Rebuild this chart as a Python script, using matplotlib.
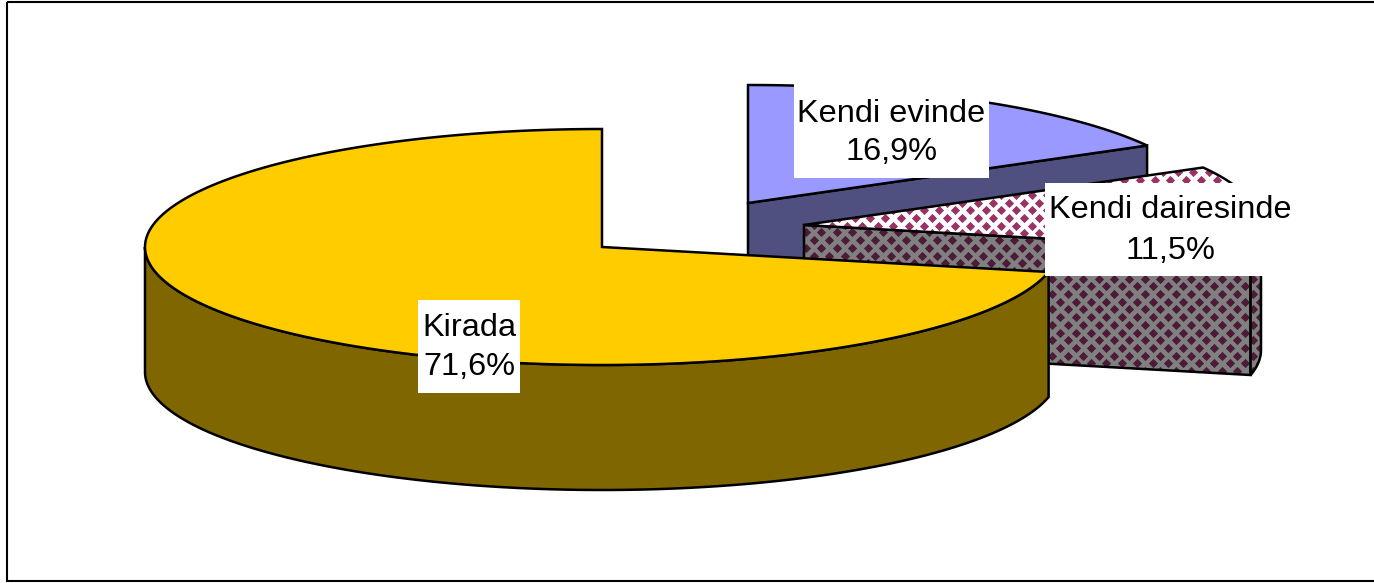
import numpy as np
import matplotlib
matplotlib.use("Agg")
import matplotlib.pyplot as plt
from matplotlib.patches import Polygon, Rectangle

labels = ["Kirada", "Kendi evinde", "Kendi dairesinde"]
values = [71.6, 16.9, 11.5]
value_text = ["71,6%", "16,9%", "11,5%"]

W, H = 1374, 583
plt.rcParams['font.family'] = ['Liberation Sans', 'DejaVu Sans']
fig = plt.figure(figsize=(W/100, H/100), dpi=100)
ax = fig.add_axes([0, 0, 1, 1])
ax.set_xlim(0, W); ax.set_ylim(H, 0); ax.axis('off')

RX, RY, DEPTH = 457, 118, 125
LW = 1.8
PX, PY = 15.4, 7.7

# start angle and direction derived from values
a_kirada = (90, 90 + values[0]*3.6)
a_evinde = (90, 90 - values[1]*3.6)
a_daire = (a_evinde[1], a_evinde[1] - values[2]*3.6)

def arc(cx, cy, a0, a1, n=200):
    t = np.radians(np.linspace(a0, a1, n))
    return np.column_stack([cx + RX*np.cos(t), cy - RY*np.sin(t)])

def top_poly(cx, cy, a0, a1):
    return np.vstack([[cx, cy], arc(cx, cy, a0, a1)])

def rim_poly(cx, cy, a0, a1):
    p = arc(cx, cy, a0, a1)
    return np.vstack([p, p[::-1] + [0, DEPTH]])

def cut_face(cx, cy, angle):
    end = arc(cx, cy, angle, angle, 1)[0]
    return np.array([[cx, cy], end, end + [0, DEPTH], [cx, cy + DEPTH]])

def fill(pts, fc, z, ec='black'):
    p = Polygon(pts, closed=True, fc=fc, ec=ec, lw=LW, zorder=z, joinstyle='miter')
    ax.add_patch(p)
    return p

def diamonds(pts, base, dia, z, phase):
    patch = fill(pts, base, z, ec='none')
    gx, gy = [], []
    for j in range(-80, 80):
        y = phase[1] + j*PY
        for k in range(-80, 80):
            gx.append(phase[0] + k*PX + (PX/2 if j % 2 else 0))
            gy.append(y)
    s = ax.scatter(gx, gy, marker='D', s=22, c=dia, lw=0, zorder=z + .01)
    s.set_clip_path(patch)
    fill(pts, 'none', z + .02)

# Kendi evinde
c1 = (748, 203)
fill(cut_face(*c1, a_evinde[1]), '#4F4F80', 2)
fill(top_poly(*c1, *a_evinde), '#9999FF', 3)

# Kendi dairesinde
c2 = (804, 225)
diamonds(cut_face(*c2, a_daire[1]), '#808080', '#4D1A38', 4, (1114, 294))
diamonds(rim_poly(*c2, 0, a_daire[1]), '#808080', '#4D1A38', 4.3, (1114, 294))
diamonds(top_poly(*c2, *a_daire), 'white', '#993366', 5, (870, 218))

# Kirada
c0 = (602, 247)
fill(rim_poly(*c0, 180, a_kirada[1]), '#806600', 6)
fill(top_poly(*c0, *a_kirada), '#FFCC00', 7)

# Frame (right side runs off the image)
ax.add_patch(Rectangle((7, 2), 1400, 579, fc='none', ec='black', lw=1.5, zorder=20))

# Labels: box and two text line centres
boxes = [(418, 300, 520, 393), (794, 84, 989, 178), (1045, 183, 1295, 276)]
line_y = [(328, 367), (114, 152), (210, 251)]
for lab, val, b, ly in zip(labels, value_text, boxes, line_y):
    ax.add_patch(Rectangle((b[0], b[1]), b[2]-b[0], b[3]-b[1], fc='white', ec='none', zorder=10))
    cx = (b[0]+b[2])/2
    ax.text(cx, ly[0], lab, ha='center', va='center', fontsize=23.4, zorder=11, color='black')
    ax.text(cx, ly[1], val, ha='center', va='center', fontsize=23.4, zorder=11, color='black')

fig.savefig("out.png", dpi=100)
